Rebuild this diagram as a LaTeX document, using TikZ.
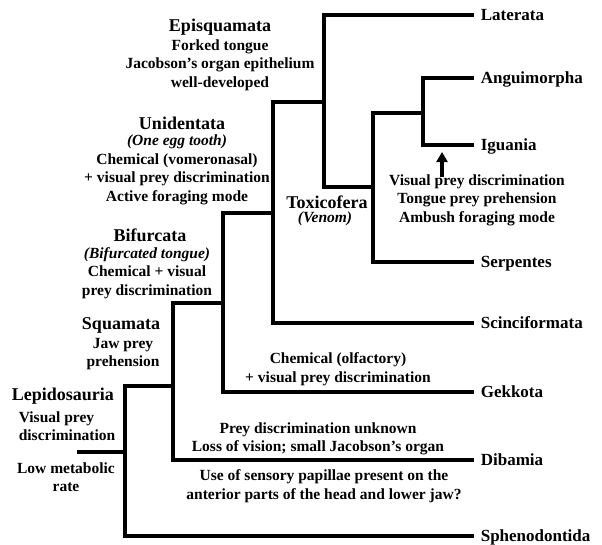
\documentclass[tikz,border=0pt]{standalone}
\usepackage{fontspec}
\setmainfont{Liberation Serif}
\usetikzlibrary{arrows.meta}

\begin{document}
\begin{tikzpicture}[x=1pt, y=-1pt, line width=3.6pt, line cap=rect, line join=miter,
  taxon/.style={anchor=west, inner xsep=7pt, inner ysep=0pt, text height=11pt, text depth=0pt, font=\fontsize{17}{20}\selectfont\bfseries},
  clade/.style={inner sep=0pt, font=\fontsize{18}{20}\selectfont\bfseries},
  note/.style={inner sep=0pt, align=center, font=\fontsize{15.5}{18.5}\selectfont\bfseries}]
  \useasboundingbox (0,0) rectangle (602,544);
  \coordinate (root) at (79,452);
  \coordinate (lepi) at (125,452);
  \coordinate (squa) at (173,386);
  \coordinate (bifu) at (223,303);
  \coordinate (unid) at (273,213);
  \coordinate (epis) at (324,102);
  \coordinate (toxi) at (373,187);
  \coordinate (angi) at (423,113);
  \node (lat) [taxon] at (472,15) {Laterata};
  \node (ang) [taxon] at (472,78) {Anguimorpha};
  \node (igu) [taxon] at (472,145) {Iguania};
  \node (ser) [taxon] at (472,262) {Serpentes};
  \node (sci) [taxon] at (472,323) {Scinciformata};
  \node (gek) [taxon] at (472,392) {Gekkota};
  \node (dib) [taxon] at (472,460) {Dibamia};
  \node (sph) [taxon] at (472,536) {Sphenodontida};
  \draw (root) -- (lepi);
  \draw (lepi) |- (squa);
  \draw (lepi) |- (sph.west);
  \draw (squa) |- (bifu);
  \draw (squa) |- (dib.west);
  \draw (bifu) |- (unid);
  \draw (bifu) |- (gek.west);
  \draw (unid) |- (epis);
  \draw (unid) |- (sci.west);
  \draw (epis) |- (lat.west);
  \draw (epis) |- (toxi);
  \draw (toxi) |- (angi);
  \draw (toxi) |- (ser.west);
  \draw (angi) |- (ang.west);
  \draw (angi) |- (igu.west);
  \node (episname) [clade] at (220,27) {Episquamata};
  \node (episnote) [note] at (220,65) {Forked tongue\\Jacobson’s organ epithelium\\well-developed};
  \node (unidname) [clade] at (182,123) {Unidentata};
  \node (unidnote) [note] at (177,170) {\textit{(One egg tooth)}\\Chemical (vomeronasal)\\+ visual prey discrimination\\Active foraging mode};
  \node (bifuname) [clade] at (150,235) {Bifurcata};
  \node (bifunote) [note] at (147,273) {\textit{(Bifurcated tongue)}\\Chemical + visual\\prey discrimination};
  \node (squaname) [clade] at (121,325) {Squamata};
  \node (squanote) [note] at (123,354) {Jaw prey\\prehension};
  \node (lepiname) [clade, anchor=west] at (10,396) {Lepidosauria};
  \node (lepinote) [note, align=left, anchor=west] at (17,426) {Visual prey\\discrimination};
  \node (metab) [note] at (66,477) {Low metabolic\\rate};
  \node (toxiname) [clade] at (327,202) {Toxicofera};
  \node (toxinote) [note] at (325,219) {\textit{(Venom)}};
  \node (igunote) [note] at (477,200) {Visual prey discrimination\\Tongue prey prehension\\Ambush foraging mode};
  \node (geknote) [note] at (338,369) {Chemical (olfactory)\\+ visual prey discrimination};
  \node (dibnote) [note] at (318,439) {Prey discrimination unknown\\Loss of vision; small Jacobson’s organ};
  \node (dibpap) [note] at (324,486) {Use of sensory papillae present on the\\anterior parts of the head and lower jaw?};
  \coordinate (tip) at (442,152);
  \draw [-{Triangle[width=11pt,length=10pt]}, line width=3.6pt, line cap=butt] ([yshift=-4pt]igunote.north -| tip) -- (tip);
\end{tikzpicture}
\end{document}
